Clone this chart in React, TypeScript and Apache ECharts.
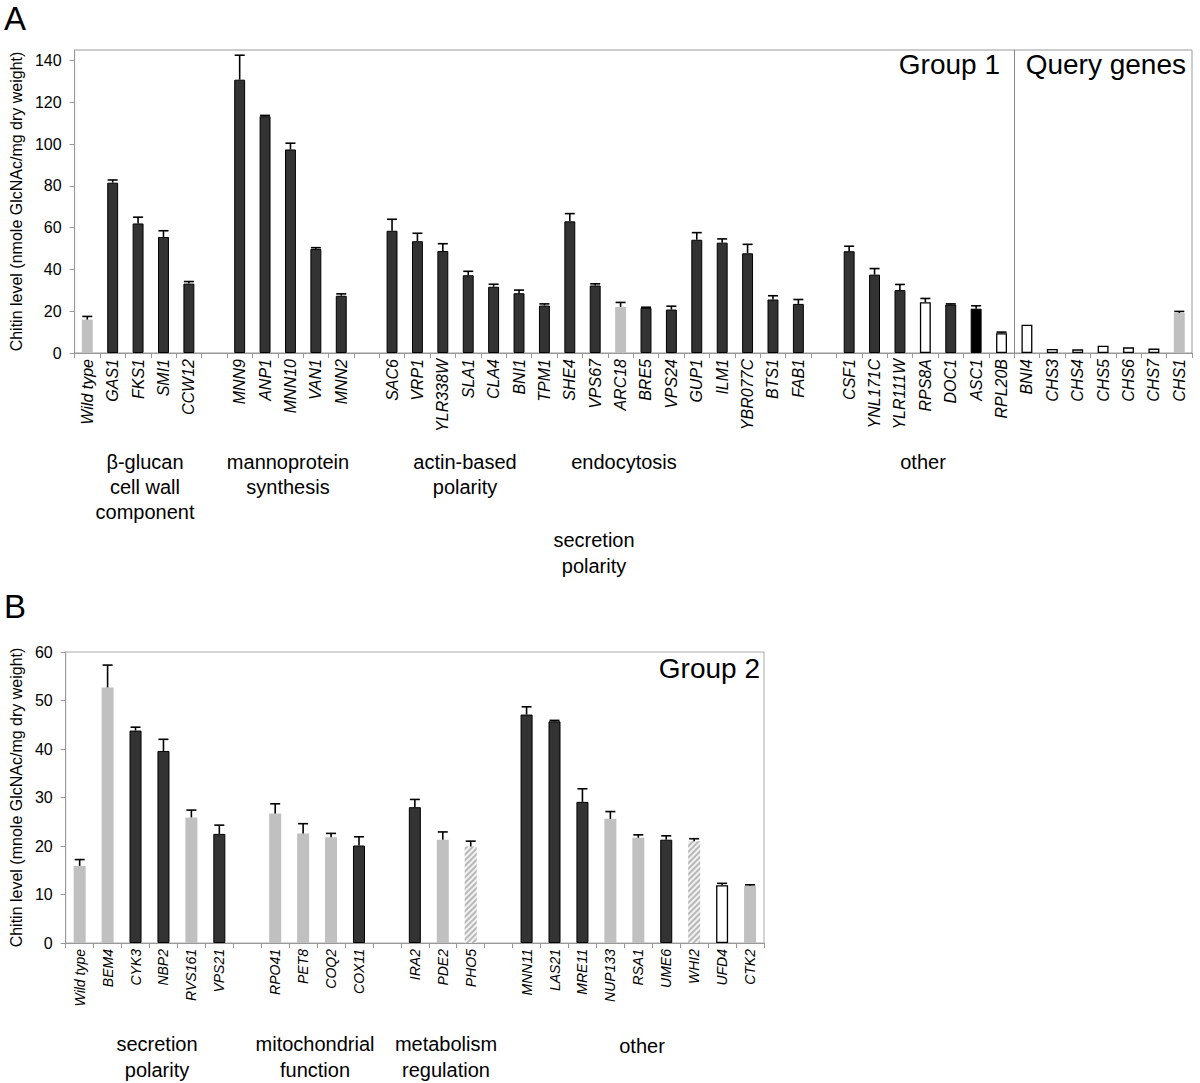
import React, { useEffect, useRef } from 'react';
import * as echarts from 'echarts';

// ---------- Panel A data ----------
const genesA = ['Wild type', 'GAS1', 'FKS1', 'SMI1', 'CCW12', '', 'MNN9', 'ANP1', 'MNN10', 'VAN1', 'MNN2', ' ',
  'SAC6', 'VRP1', 'YLR338W', 'SLA1', 'CLA4', 'BNI1', 'TPM1', 'SHE4', 'VPS67', 'ARC18', 'BRE5', 'VPS24', 'GUP1', 'ILM1',
  'YBR077C', 'BTS1', 'FAB1', '  ', 'CSF1', 'YNL171C', 'YLR111W', 'RPS8A', 'DOC1', 'ASC1', 'RPL20B',
  'BNI4', 'CHS3', 'CHS4', 'CHS5', 'CHS6', 'CHS7', 'CHS1'];
const valuesA = [16, 81.5, 62, 55.5, 33.2, null, 130.8, 113.3, 97.4, 49.8, 27.4, null,
  58.5, 53.5, 48.8, 37.2, 31.7, 28.6, 22.7, 63.0, 32.3, 22.0, 21.6, 20.8, 54.2, 52.8,
  47.7, 25.6, 23.5, null, 48.7, 37.5, 30.1, 24.3, 23.2, 21.2, 9.5,
  13.5, 1.9, 1.75, 3.5, 2.7, 2.1, 19.1];
const errorsA = [1.5, 1.3, 3.0, 3.0, 1.0, null, 11.7, 0.4, 3.0, 0.6, 0.9, null,
  5.5, 3.8, 3.5, 1.9, 1.2, 1.5, 0.8, 3.7, 0.8, 2.2, 0.3, 1.6, 3.4, 1.8,
  4.3, 1.8, 2.1, null, 2.4, 2.9, 2.7, 1.8, 0.3, 1.4, 0.5,
  0, 0, 0, 0, 0, 0, 0.8];
const kindsA = ['gray', 'dark', 'dark', 'dark', 'dark', '', 'dark', 'dark', 'dark', 'dark', 'dark', '',
  'dark', 'dark', 'dark', 'dark', 'dark', 'dark', 'dark', 'dark', 'dark', 'gray', 'dark', 'dark', 'dark', 'dark',
  'dark', 'dark', 'dark', '', 'dark', 'dark', 'dark', 'white', 'dark', 'black', 'white',
  'white', 'white', 'white', 'white', 'white', 'white', 'gray'];
const yTicksA = [0, 20, 40, 60, 80, 100, 120, 140];

// ---------- Panel B data ----------
const genesB = ['Wild type', 'BEM4', 'CYK3', 'NBP2', 'RVS161', 'VPS21', '', 'RPO41', 'PET8', 'COQ2', 'COX11', ' ',
  'IRA2', 'PDE2', 'PHO5', '  ', 'MNN11', 'LAS21', 'MRE11', 'NUP133', 'RSA1', 'UME6', 'WHI2', 'UFD4', 'CTK2'];
const valuesB = [15.9, 52.7, 43.8, 39.6, 25.9, 22.5, null, 26.7, 22.6, 21.8, 20.1, null,
  28.0, 21.3, 19.9, null, 47.1, 45.7, 29.1, 25.6, 21.7, 21.3, 21.0, 11.9, 11.8];
const errorsB = [1.3, 4.6, 0.7, 2.4, 1.5, 1.8, null, 2.0, 2.0, 0.8, 1.8, null,
  1.6, 1.6, 1.1, null, 1.6, 0.2, 2.7, 1.5, 0.6, 0.8, 0.5, 0.4, 0.2];
const kindsB = ['gray', 'gray', 'dark', 'dark', 'gray', 'dark', '', 'gray', 'gray', 'gray', 'dark', '',
  'dark', 'gray', 'hatch', '', 'dark', 'dark', 'dark', 'gray', 'gray', 'dark', 'hatch', 'white', 'gray'];
const yTicksB = [0, 10, 20, 30, 40, 50, 60];

const FONT = '"Liberation Sans", Arial, Helvetica, sans-serif';

const kindStyle: Record<string, any> = {
  dark: { color: '#333333', borderColor: '#000000', borderWidth: 1 },
  gray: { color: '#c0c0c0', borderWidth: 0 },
  white: { color: '#ffffff', borderColor: '#000000', borderWidth: 1.3 },
  black: { color: '#000000', borderColor: '#000000', borderWidth: 1 },
  hatch: {
    color: '#f2f2f2', borderWidth: 0,
    decal: { symbol: 'rect', symbolSize: 1, dashArrayX: [[1, 0]], dashArrayY: [1.5, 1.8], rotation: -Math.PI / 4, color: '#b8b8b8' },
  },
};

function barData(values: (number | null)[], kinds: string[]) {
  return values.map((v, i) => (v == null ? '-' : { value: v, itemStyle: kindStyle[kinds[i]] }));
}
function errData(values: (number | null)[], errs: (number | null)[]) {
  const out: number[][] = [];
  values.forEach((v, i) => {
    const e = errs[i];
    if (v != null && e != null && e > 0) out.push([i, v, e]);
  });
  return out;
}

const renderErr = (params: any, api: any) => {
  const x = api.value(0);
  const v = api.value(1);
  const e = api.value(2);
  const p0 = api.coord([x, v]);
  const p1 = api.coord([x, v + e]);
  const hw = 5;
  const st = { stroke: '#000', lineWidth: 1.6 };
  return {
    type: 'group',
    children: [
      { type: 'line', shape: { x1: p0[0], y1: p0[1], x2: p1[0], y2: p1[1] }, style: st },
      { type: 'line', shape: { x1: p1[0] - hw, y1: p1[1], x2: p1[0] + hw, y2: p1[1] }, style: st },
    ],
  };
};

function xAxisCfg(genes: string[], gridIndex: number, fontSize: number) {
  return {
    type: 'category', gridIndex, data: genes,
    axisLine: { lineStyle: { color: '#999999', width: 1 } },
    axisTick: { show: true, length: 5, lineStyle: { color: '#999999' } },
    axisLabel: { interval: 0, rotate: 90, margin: 6, color: '#000', fontSize, fontStyle: 'italic', fontFamily: FONT },
  };
}
function yAxisCfg(gridIndex: number, max: number, interval: number, ticks: number[], name: string, nameGap: number) {
  return {
    type: 'value', gridIndex, min: 0, max, interval,
    name, nameLocation: 'middle', nameGap,
    nameTextStyle: { fontSize: 16, color: '#000', fontFamily: FONT },
    axisLine: { show: true, lineStyle: { color: '#999999', width: 1 } },
    axisTick: { show: true, length: 5, customValues: ticks, lineStyle: { color: '#999999' } },
    axisLabel: { customValues: ticks, margin: 13, fontSize: 16, color: '#000', fontFamily: FONT },
    splitLine: { show: false },
  };
}

const txt = (text: string, x: number, y: number, fontSize: number, align = 'center', lineHeight?: number) => ({
  type: 'text', x, y, silent: true,
  style: { text, fontSize, fontFamily: FONT, fill: '#000', align, verticalAlign: 'middle', lineHeight: lineHeight || fontSize * 1.2 },
});

export default function App() {
  const ref = useRef<HTMLDivElement>(null);
  useEffect(() => {
    if (!ref.current) return;
    const chart = echarts.init(ref.current, undefined, { renderer: 'svg' });
    chart.setOption({
      animation: false,
      backgroundColor: '#ffffff',
      grid: [
        { left: 66, top: 50, width: 1126, height: 303, show: true, borderColor: '#999999', borderWidth: 1, backgroundColor: 'transparent' },
        { left: 58, top: 652, width: 706, height: 291, show: true, borderColor: '#aaaaaa', borderWidth: 1, backgroundColor: 'transparent' },
      ],
      xAxis: [xAxisCfg(genesA, 0, 16), xAxisCfg(genesB, 1, 14)],
      yAxis: [
        yAxisCfg(0, 145, 20, yTicksA, 'Chitin level (nmole GlcNAc/mg dry weight)', 47),
        yAxisCfg(1, 60, 10, yTicksB, 'Chitin level (mnole GlcNAc/mg dry weight)', 39),
      ],
      series: [
        { type: 'bar', xAxisIndex: 0, yAxisIndex: 0, barWidth: '43%', data: barData(valuesA, kindsA) },
        { type: 'custom', xAxisIndex: 0, yAxisIndex: 0, z: 5, renderItem: renderErr, data: errData(valuesA, errorsA) },
        { type: 'bar', xAxisIndex: 1, yAxisIndex: 1, barWidth: '43%', data: barData(valuesB, kindsB) },
        { type: 'custom', xAxisIndex: 1, yAxisIndex: 1, z: 5, renderItem: renderErr, data: errData(valuesB, errorsB) },
      ],
    });

    // separator between Group 1 and Query genes
    const iLast = genesA.indexOf('RPL20B');
    const xa = chart.convertToPixel({ xAxisIndex: 0 }, iLast) as number;
    const xb = chart.convertToPixel({ xAxisIndex: 0 }, iLast + 1) as number;
    const sepX = Math.round((xa + xb) / 2) + 0.5;
    const yTop = chart.convertToPixel({ yAxisIndex: 0 }, 145) as number;
    const yBot = chart.convertToPixel({ yAxisIndex: 0 }, 0) as number;

    chart.setOption({
      graphic: [
        { type: 'line', silent: true, shape: { x1: sepX, y1: yTop, x2: sepX, y2: yBot }, style: { stroke: '#888888', lineWidth: 1 } },
        txt('A', 4, 18, 33, 'left'),
        txt('B', 4, 606, 33, 'left'),
        txt('Group 1', 1000, 64, 28, 'right'),
        txt('Query genes', 1186, 64, 28, 'right'),
        txt('Group 2', 760, 668, 28, 'right'),
        txt('β-glucan\ncell wall\ncomponent', 145, 487, 20, 'center', 25),
        txt('mannoprotein\nsynthesis', 288, 474.5, 20, 'center', 25),
        txt('actin-based\npolarity', 465, 474.5, 20, 'center', 25),
        txt('endocytosis', 624, 462, 20, 'center'),
        txt('other', 923, 462, 20, 'center'),
        txt('secretion\npolarity', 594, 553, 20, 'center', 26),
        txt('secretion\npolarity', 157, 1057, 20, 'center', 26),
        txt('mitochondrial\nfunction', 315, 1057, 20, 'center', 26),
        txt('metabolism\nregulation', 446, 1057, 20, 'center', 26),
        txt('other', 642, 1046, 20, 'center'),
      ],
    });
    return () => chart.dispose();
  }, []);
  return <div ref={ref} style={{ position: 'fixed', left: 0, top: 0, width: 1200, height: 1083, background: '#fff' }} />;
}
